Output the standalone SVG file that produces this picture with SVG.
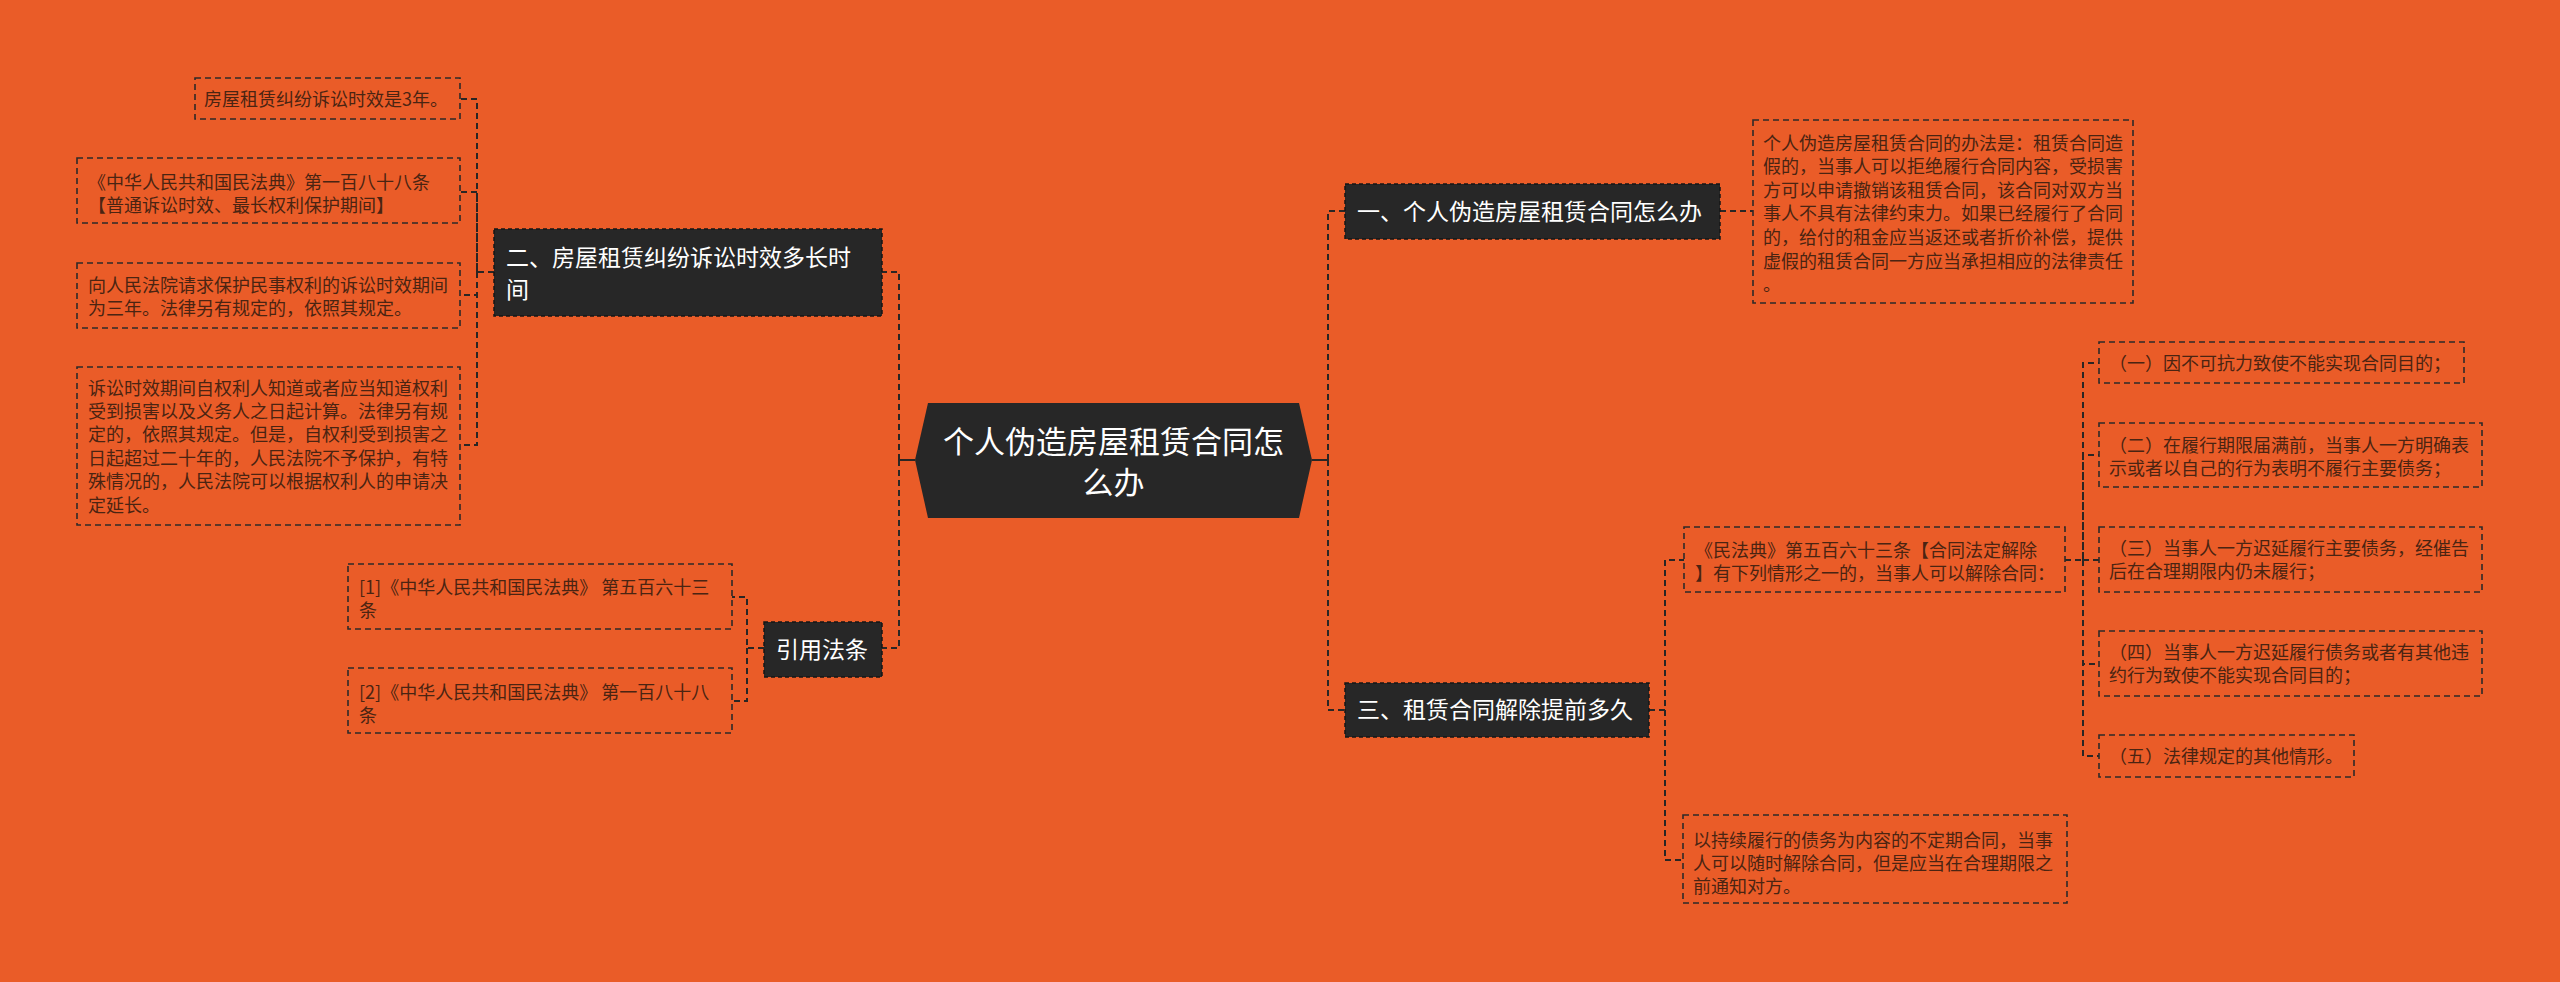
<svg xmlns="http://www.w3.org/2000/svg" width="2560" height="982" viewBox="0 0 2560 982">
<style>
text{font-family:"Noto Sans CJK SC","Noto Sans",sans-serif}
.leaf rect{fill:none;stroke:#2e2a28;stroke-width:1.6;stroke-dasharray:6 4}
.leaf text{fill:#4a2412;font-size:18px}
.node rect{fill:#272727;stroke:#161616;stroke-width:1.5;stroke-dasharray:4 3}
.node text{fill:#ffffff;font-size:23px}
.conn path{fill:none;stroke:#2a2624;stroke-width:2;stroke-dasharray:6 4}
.conn .solid{stroke-dasharray:none}
</style>
<rect x="0" y="0" width="2560" height="982" fill="#EA5C28"/>
<g id="connectors" class="conn">
<path class="solid" d="M915,460 H899 M1312,460 H1328"/>
<path d="M899,460 V272 H882"/>
<path d="M899,460 V648 H882"/>
<path d="M1328,460 V211 H1345"/>
<path d="M1328,460 V710 H1345"/>
<path d="M494,272 H477 V99 H460"/>
<path d="M477,272 V192 H460"/>
<path d="M477,272 V295 H460"/>
<path d="M477,272 V445 H460"/>
<path d="M764,648 H747 V597 H732"/>
<path d="M747,648 V701 H732"/>
<path d="M1720,211 H1753"/>
<path d="M1649,710 H1665 V560 H1684"/>
<path d="M1665,710 V860 H1683"/>
<path d="M2065,560 H2083 V363 H2099"/>
<path d="M2083,560 V455 H2099"/>
<path d="M2083,560 H2099"/>
<path d="M2083,560 V664 H2099"/>
<path d="M2083,560 V756 H2099"/>
</g>
<g id="root">
<polygon points="915,460 928,403 1299,403 1312,460 1299,518 928,518" fill="#272727"/>
<text x="1113.5" y="453" text-anchor="middle" fill="#fff" font-size="31">个人伪造房屋租赁合同怎</text>
<text x="1113.5" y="494" text-anchor="middle" fill="#fff" font-size="31">么办</text>
</g>
<g id="n2" class="node">
<rect x="494" y="229" width="388" height="87"/>
<text x="506" y="266">二、房屋租赁纠纷诉讼时效多长时</text>
<text x="506" y="298">间</text>
</g>
<g id="nref" class="node">
<rect x="764" y="622" width="118" height="55"/>
<text x="776" y="658">引用法条</text>
</g>
<g id="n1" class="node">
<rect x="1345" y="184" width="375" height="55"/>
<text x="1357" y="220">一、个人伪造房屋租赁合同怎么办</text>
</g>
<g id="n3" class="node">
<rect x="1345" y="683" width="304" height="54"/>
<text x="1357" y="718">三、租赁合同解除提前多久</text>
</g>
<g id="l1" class="leaf">
<rect x="195" y="78" width="265" height="41"/>
<text x="204" y="105.5">房屋租赁纠纷诉讼时效是3年。</text>
</g>
<g id="l2" class="leaf">
<rect x="77" y="158" width="383" height="65"/>
<text x="88" y="188.5">《中华人民共和国民法典》第一百八十八条</text>
<text x="88" y="211.5">【普通诉讼时效、最长权利保护期间】</text>
</g>
<g id="l3" class="leaf">
<rect x="77" y="263" width="383" height="65"/>
<text x="88" y="291.5">向人民法院请求保护民事权利的诉讼时效期间</text>
<text x="88" y="314.5">为三年。法律另有规定的，依照其规定。</text>
</g>
<g id="l4" class="leaf">
<rect x="77" y="367" width="383" height="158"/>
<text x="88" y="394.5">诉讼时效期间自权利人知道或者应当知道权利</text>
<text x="88" y="417.9">受到损害以及义务人之日起计算。法律另有规</text>
<text x="88" y="441.3">定的，依照其规定。但是，自权利受到损害之</text>
<text x="88" y="464.7">日起超过二十年的，人民法院不予保护，有特</text>
<text x="88" y="488.1">殊情况的，人民法院可以根据权利人的申请决</text>
<text x="88" y="511.5">定延长。</text>
</g>
<g id="ref1" class="leaf">
<rect x="348" y="564" width="384" height="65"/>
<text x="359" y="593.5">[1]《中华人民共和国民法典》 第五百六十三</text>
<text x="359" y="616.5">条</text>
</g>
<g id="ref2" class="leaf">
<rect x="348" y="668" width="384" height="65"/>
<text x="359" y="698.5">[2]《中华人民共和国民法典》 第一百八十八</text>
<text x="359" y="721.5">条</text>
</g>
<g id="r1" class="leaf">
<rect x="1753" y="120" width="380" height="183"/>
<text x="1763" y="149.5">个人伪造房屋租赁合同的办法是：租赁合同造</text>
<text x="1763" y="173.1">假的，当事人可以拒绝履行合同内容，受损害</text>
<text x="1763" y="196.7">方可以申请撤销该租赁合同，该合同对双方当</text>
<text x="1763" y="220.3">事人不具有法律约束力。如果已经履行了合同</text>
<text x="1763" y="243.9">的，给付的租金应当返还或者折价补偿，提供</text>
<text x="1763" y="267.5">虚假的租赁合同一方应当承担相应的法律责任</text>
<text x="1763" y="291.1">。</text>
</g>
<g id="r3a" class="leaf">
<rect x="1684" y="527" width="381" height="65"/>
<text x="1695" y="556.5">《民法典》第五百六十三条【合同法定解除</text>
<text x="1695" y="579.5">】有下列情形之一的，当事人可以解除合同：</text>
</g>
<g id="r3b" class="leaf">
<rect x="1683" y="815" width="384" height="88"/>
<text x="1693" y="846.5">以持续履行的债务为内容的不定期合同，当事</text>
<text x="1693" y="869.5">人可以随时解除合同，但是应当在合理期限之</text>
<text x="1693" y="892.5">前通知对方。</text>
</g>
<g id="c1" class="leaf">
<rect x="2099" y="342" width="365" height="41"/>
<text x="2109" y="369.5">（一）因不可抗力致使不能实现合同目的；</text>
</g>
<g id="c2" class="leaf">
<rect x="2099" y="423" width="383" height="64"/>
<text x="2109" y="451.5">（二）在履行期限届满前，当事人一方明确表</text>
<text x="2109" y="474.5">示或者以自己的行为表明不履行主要债务；</text>
</g>
<g id="c3" class="leaf">
<rect x="2099" y="527" width="383" height="65"/>
<text x="2109" y="554.5">（三）当事人一方迟延履行主要债务，经催告</text>
<text x="2109" y="577.5">后在合理期限内仍未履行；</text>
</g>
<g id="c4" class="leaf">
<rect x="2099" y="631" width="383" height="65"/>
<text x="2109" y="658.5">（四）当事人一方迟延履行债务或者有其他违</text>
<text x="2109" y="681.5">约行为致使不能实现合同目的；</text>
</g>
<g id="c5" class="leaf">
<rect x="2099" y="735" width="255" height="42"/>
<text x="2109" y="762.5">（五）法律规定的其他情形。</text>
</g>
</svg>
